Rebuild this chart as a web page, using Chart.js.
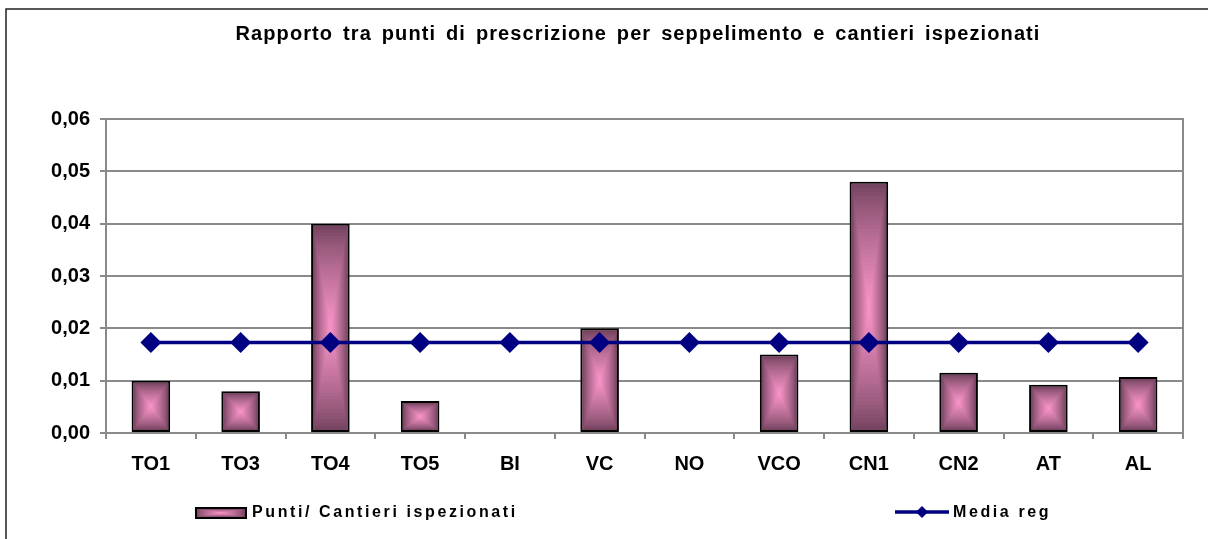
<!DOCTYPE html>
<html>
<head>
<meta charset="utf-8">
<script src="https://cdn.jsdelivr.net/npm/chart.js@4/dist/chart.umd.min.js"></script>
<style>
    body { margin: 0; background: #fff; }
    #wrap { width: 1208px; height: 539px; position: relative; }
</style>
</head>
<body>
<div id="wrap"><canvas id="chart1"></canvas></div>
<script>
var titolo = 'Rapporto tra punti di prescrizione per seppelimento e cantieri ispezionati';
var categorie = ['TO1', 'TO3', 'TO4', 'TO5', 'BI', 'VC', 'NO', 'VCO', 'CN1', 'CN2', 'AT', 'AL'];
var puntiCantieri = [0.010, 0.008, 0.040, 0.0061, 0, 0.020, 0, 0.015, 0.048, 0.0115, 0.0092, 0.0107];
var mediaReg = [0.0173, 0.0173, 0.0173, 0.0173, 0.0173, 0.0173, 0.0173, 0.0173, 0.0173, 0.0173, 0.0173, 0.0173];
var yTicks = [0, 0.01, 0.02, 0.03, 0.04, 0.05, 0.06];
var legendaBarre = 'Punti/ Cantieri ispezionati';
var legendaLinea = 'Media reg';

var FONT = '"Liberation Sans", Arial, sans-serif';
var EDGE = [116, 68, 96];
var CENTER = [252, 150, 202];
var NAVY = '#000080';
var GRID = '#8a8a8a';

function mix(t) {
    var c = EDGE.map(function (e, i) { return Math.round(e + (CENTER[i] - e) * t); });
    return 'rgb(' + c.join(',') + ')';
}

// rectangular "from center" gradient, drawn as nested rectangles
function fillRectGradient(ctx, left, top, right, bottom) {
    var w = right - left, h = bottom - top;
    if (w <= 0 || h <= 0) return;
    var steps = 30;
    for (var i = 0; i <= steps; i++) {
        var t = i / steps;
        var dx = (w / 2) * t, dy = (h / 2) * t;
        ctx.fillStyle = mix(Math.pow(t, 0.8));
        ctx.fillRect(left + dx, top + dy, Math.max(w - 2 * dx, 0.5), Math.max(h - 2 * dy, 0.5));
    }
}

var barGradient = {
    id: 'barGradient',
    afterDatasetDraw: function (chart, args) {
        if (args.index !== 0) return;
        var ctx = chart.ctx;
        ctx.save();
        args.meta.data.forEach(function (bar) {
            var p = bar.getProps(['x', 'y', 'base', 'width'], true);
            var top = Math.min(p.y, p.base), bottom = Math.max(p.y, p.base);
            if (bottom - top < 1) return;
            fillRectGradient(ctx, p.x - p.width / 2 + 2, top + 2, p.x + p.width / 2 - 2, bottom - 2);
        });
        ctx.restore();
    }
};

var decor = {
    id: 'decor',
    beforeDatasetsDraw: function (chart) {
        var ctx = chart.ctx, a = chart.chartArea;
        ctx.save();
        ctx.strokeStyle = GRID;
        ctx.lineWidth = 2;
        ctx.beginPath();
        ctx.moveTo(a.right, a.top - 1);
        ctx.lineTo(a.right, a.bottom);
        ctx.stroke();
        ctx.restore();
    },
    afterDraw: function (chart) {
        var ctx = chart.ctx;
        ctx.save();
        // outer frame
        ctx.strokeStyle = '#222';
        ctx.lineWidth = 1.5;
        ctx.strokeRect(6, 9, 1300, 700);

        // title: stretch the word gaps a little to fit the original width
        ctx.fillStyle = '#000';
        ctx.font = 'bold 20px ' + FONT;
        ctx.textBaseline = 'middle';
        ctx.textAlign = 'center';
        ctx.letterSpacing = '1.1px';
        ctx.wordSpacing = '0px';
        var w0 = ctx.measureText(titolo).width;
        var nSpazi = titolo.split(' ').length - 1;
        ctx.wordSpacing = Math.max(0, (805 - w0) / nSpazi).toFixed(2) + 'px';
        ctx.fillText(titolo, 638, 34);
        ctx.wordSpacing = '0px';

        // legend
        ctx.textAlign = 'left';
        fillRectGradient(ctx, 196, 509, 245, 517);
        ctx.strokeStyle = '#000';
        ctx.lineWidth = 2;
        ctx.strokeRect(196, 508, 50, 10);

        ctx.strokeStyle = NAVY;
        ctx.lineWidth = 3.5;
        ctx.beginPath();
        ctx.moveTo(895, 512);
        ctx.lineTo(949, 512);
        ctx.stroke();
        ctx.fillStyle = NAVY;
        ctx.beginPath();
        ctx.moveTo(922, 506);
        ctx.lineTo(928, 512);
        ctx.lineTo(922, 518);
        ctx.lineTo(916, 512);
        ctx.closePath();
        ctx.fill();

        ctx.fillStyle = '#000';
        ctx.font = 'bold 16px ' + FONT;
        ctx.letterSpacing = '2.6px';
        ctx.fillText(legendaBarre, 252, 513);
        ctx.fillText(legendaLinea, 953, 513);
        ctx.restore();
    }
};

var chart1 = new Chart(document.getElementById('chart1'), {
    type: 'bar',
    data: {
        labels: categorie,
        datasets: [
            {
                type: 'bar',
                label: legendaBarre,
                data: puntiCantieri,
                backgroundColor: 'rgb(116,68,96)',
                borderColor: '#000',
                borderWidth: function (c) { return c.raw === 0 ? 0 : 2; },
                borderSkipped: false,
                categoryPercentage: 1,
                barPercentage: 0.43,
                order: 1,
            },
            {
                type: 'line',
                label: legendaLinea,
                data: mediaReg,
                borderColor: NAVY,
                borderWidth: 3.5,
                pointStyle: 'rectRot',
                pointRadius: 10.5,
                pointBackgroundColor: NAVY,
                pointBorderColor: NAVY,
                pointBorderWidth: 0,
                order: 0,
            },
        ],
    },
    options: {
        responsive: true,
        maintainAspectRatio: false,
        animation: false,
        layout: { padding: { top: 119, right: 25, left: 0, bottom: 0 } },
        plugins: {
            legend: { display: false },
            title: { display: false },
            tooltip: { enabled: false },
        },
        scales: {
            x: {
                grid: {
                    offset: true,
                    drawOnChartArea: false,
                    drawTicks: true,
                    tickLength: 6,
                    tickColor: GRID,
                    lineWidth: 2,
                },
                border: { color: GRID, width: 2 },
                ticks: {
                    color: '#000',
                    font: { family: FONT, size: 20, weight: 'bold' },
                    padding: 13,
                    autoSkip: false,
                    maxRotation: 0,
                },
                afterFit: function (s) { s.height = 106; },
            },
            y: {
                min: 0,
                max: 0.06,
                afterBuildTicks: function (axis) {
                    axis.ticks = yTicks.map(function (v) { return { value: v }; });
                },
                grid: {
                    color: GRID,
                    lineWidth: 2,
                    tickLength: 6,
                    tickColor: GRID,
                },
                border: { color: GRID, width: 2 },
                ticks: {
                    color: '#000',
                    font: { family: FONT, size: 20, weight: 'bold' },
                    padding: 10,
                    callback: function (v) { return v.toFixed(2).replace('.', ','); },
                },
                afterFit: function (s) { s.width = 106; },
            },
        },
    },
    plugins: [barGradient, decor],
});
</script>
</body>
</html>
